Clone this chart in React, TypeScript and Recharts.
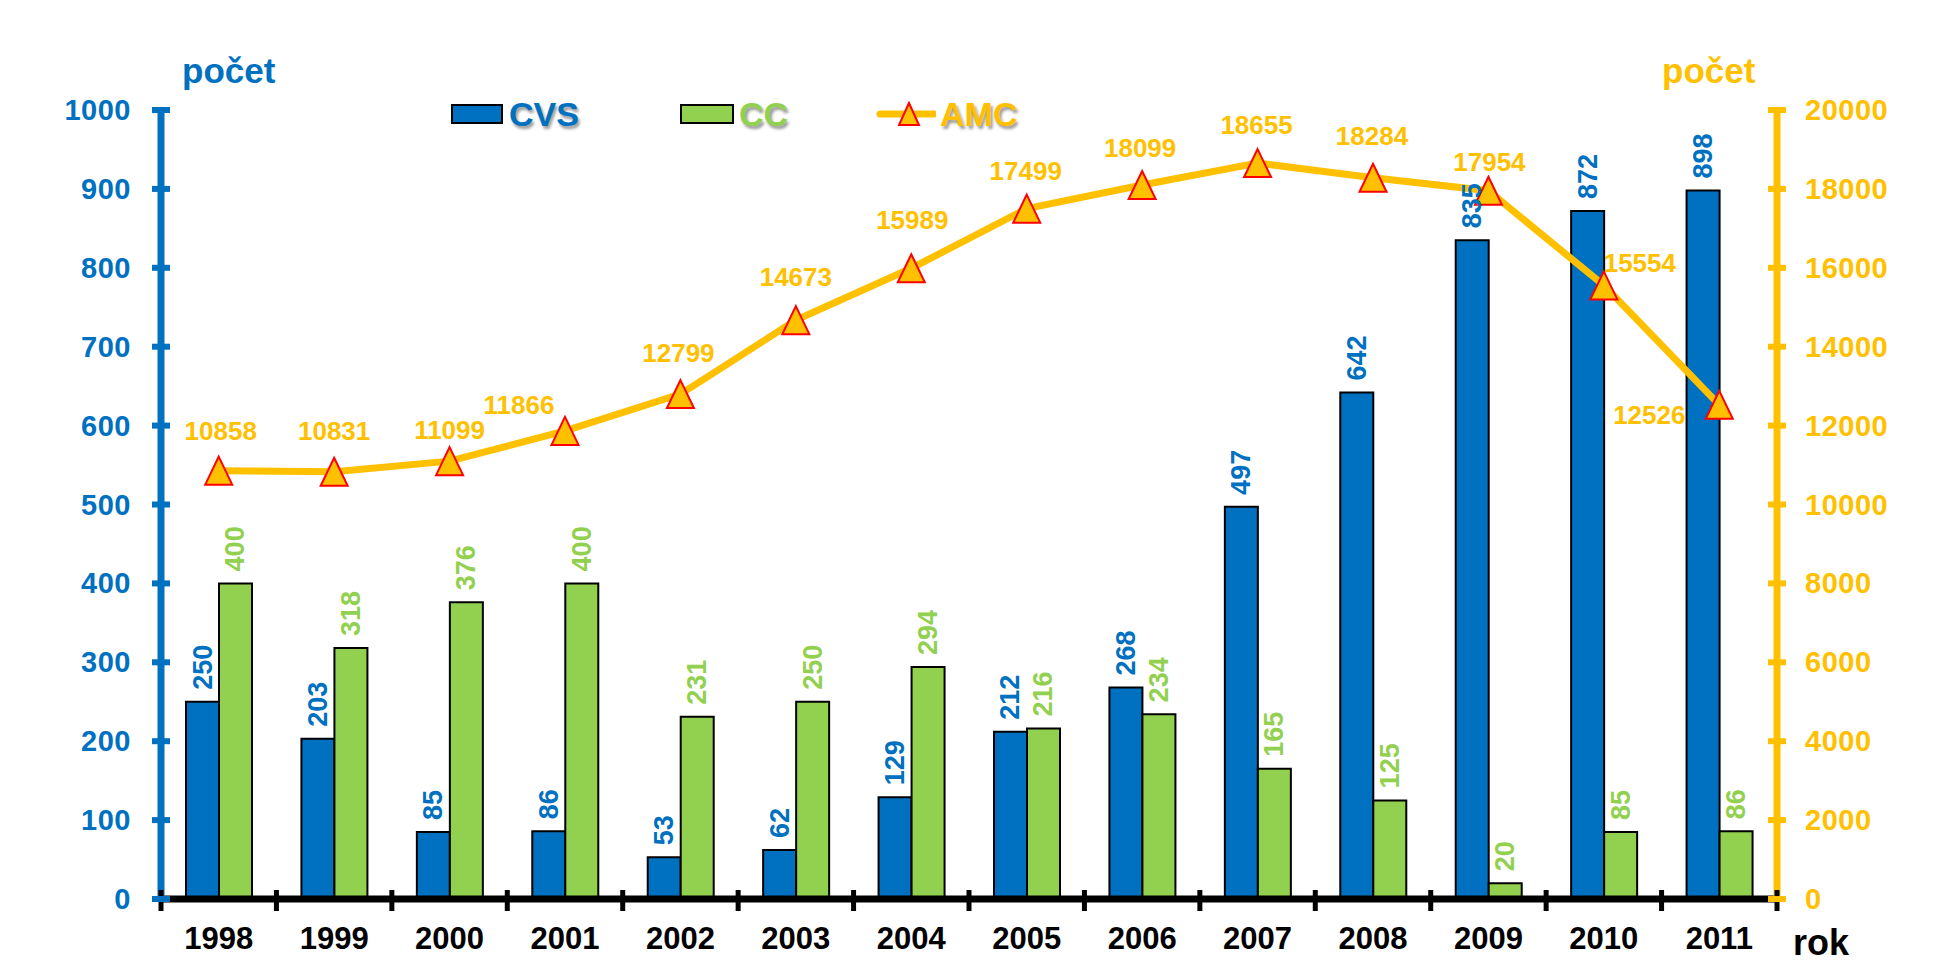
import React from "react";
import {
  Bar,
  ComposedChart,
  LabelList,
  Legend,
  Line,
  XAxis,
  YAxis,
} from "recharts";

const years = ["1998", "1999", "2000", "2001", "2002", "2003", "2004", "2005", "2006", "2007", "2008", "2009", "2010", "2011"];
const cvs = [250, 203, 85, 86, 53, 62, 129, 212, 268, 497, 642, 835, 872, 898];
const cc = [400, 318, 376, 400, 231, 250, 294, 216, 234, 165, 125, 20, 85, 86];
const amc = [10858, 10831, 11099, 11866, 12799, 14673, 15989, 17499, 18099, 18655, 18284, 17954, 15554, 12526];
const leftTicks = [0, 100, 200, 300, 400, 500, 600, 700, 800, 900, 1000];
const rightTicks = [0, 2000, 4000, 6000, 8000, 10000, 12000, 14000, 16000, 18000, 20000];

const data = years.map((year, i) => ({ year, CVS: cvs[i], CC: cc[i], AMC: amc[i] }));

const BLUE = "#0070C0";
const GREEN = "#92D050";
const GOLD = "#FFC000";
const FONT = "'Liberation Sans', Arial, sans-serif";

const W = 1947;
const H = 965;
const PLOT_LEFT = 161;
const PLOT_RIGHT = 1777;
const PLOT_TOP = 110;
const PLOT_BOTTOM = 899;
const BAND = (PLOT_RIGHT - PLOT_LEFT) / years.length;

// where each AMC value label sits relative to its marker (text centre)
const amcLabelShift = [
  [2, -40], [0, -41], [0, -31], [-46, -26], [-2, -41], [0, -43], [1, -48],
  [-1, -38], [-2, -37], [-1, -38], [-1, -42], [1, -29], [36, -22], [-70, 10],
];

const LeftTick = (props: any) => {
  const { x, y, payload } = props;
  return (
    <g>
      <line x1={x - 9} x2={x + 9} y1={y} y2={y} stroke={BLUE} strokeWidth={6} />
      <text x={x - 30} y={y} textAnchor="end" dominantBaseline="central" fill={BLUE}
        fontSize={29} fontWeight="bold" fontFamily={FONT} letterSpacing={0.5}>
        {payload.value}
      </text>
    </g>
  );
};

const RightTick = (props: any) => {
  const { x, y, payload } = props;
  return (
    <g>
      <line x1={x - 9} x2={x + 9} y1={y} y2={y} stroke={GOLD} strokeWidth={6} />
      <text x={x + 28} y={y} textAnchor="start" dominantBaseline="central" fill={GOLD}
        fontSize={29} fontWeight="bold" fontFamily={FONT} letterSpacing={0.5}>
        {payload.value}
      </text>
    </g>
  );
};

const YearTick = (props: any) => {
  const { x, y, payload, index } = props;
  const left = x - BAND / 2;
  const right = x + BAND / 2;
  return (
    <g>
      <line x1={left} x2={left} y1={y - 9} y2={y + 12} stroke="#000" strokeWidth={5} />
      {index === years.length - 1 && (
        <line x1={right} x2={right} y1={y - 9} y2={y + 12} stroke="#000" strokeWidth={5} />
      )}
      <text x={x} y={y + 39} textAnchor="middle" dominantBaseline="central" fill="#000"
        fontSize={31} fontWeight="bold" fontFamily={FONT}>
        {payload.value}
      </text>
    </g>
  );
};

const barLabel = (color: string) => (props: any) => {
  const { x, y, width, value } = props;
  const cx = x + width / 2;
  const ty = y - 12;
  return (
    <text x={cx} y={ty} transform={`rotate(-90 ${cx} ${ty})`} textAnchor="start"
      dominantBaseline="central" fill={color} fontSize={27} fontWeight="bold" fontFamily={FONT}>
      {value}
    </text>
  );
};

const amcLabel = (props: any) => {
  const { x, y, value, index } = props;
  const [dx, dy] = amcLabelShift[index] || [0, -40];
  return (
    <text x={x + dx} y={y + dy} textAnchor="middle" dominantBaseline="central" fill={GOLD}
      fontSize={26} fontWeight="bold" fontFamily={FONT}>
      {value}
    </text>
  );
};

const triangle = (cx: number, cy: number, w: number, h: number) =>
  `${cx},${cy - h / 2} ${cx + w / 2},${cy + h / 2} ${cx - w / 2},${cy + h / 2}`;

const TriangleDot = (props: any) => {
  const { cx, cy, index } = props;
  if (cx == null || cy == null) return null;
  return (
    <polygon key={`t-${index}`} points={triangle(cx, cy, 27, 28)} fill={GOLD} stroke="#FF0000" strokeWidth={2} />
  );
};

const legendText = (color: string): React.CSSProperties => ({
  position: "absolute",
  top: 0,
  fontFamily: FONT,
  fontWeight: "bold",
  fontSize: 34,
  lineHeight: "36px",
  color,
  textShadow: "2px 3px 3px rgba(0,0,0,0.4)",
});

const ChartLegend = () => (
  <div style={{ position: "relative", width: 600, height: 36 }}>
    <div style={{ position: "absolute", left: 0, top: 8, width: 48, height: 16, background: BLUE, border: "2px solid #000" }} />
    <div style={{ ...legendText(BLUE), left: 58 }}>CVS</div>
    <div style={{ position: "absolute", left: 229, top: 8, width: 50, height: 16, background: GREEN, border: "2px solid #000" }} />
    <div style={{ ...legendText(GREEN), left: 288 }}>CC</div>
    <svg style={{ position: "absolute", left: 425, top: 0 }} width={60} height={36}>
      <line x1={4} x2={58} y1={18} y2={18} stroke={GOLD} strokeWidth={7} strokeLinecap="round" />
      <polygon points={triangle(33, 18, 20, 22)} fill={GOLD} stroke="#FF0000" strokeWidth={2} />
    </svg>
    <div style={{ ...legendText(GOLD), left: 489 }}>AMC</div>
  </div>
);

export default function App() {
  return (
    <div style={{ position: "absolute", left: 0, top: 0, width: W, height: H, background: "#fff" }}>
      <ComposedChart
        width={W}
        height={H}
        data={data}
        margin={{ top: PLOT_TOP, right: 0, bottom: 0, left: 0 }}
        barGap={0}
      >
        <XAxis
          dataKey="year"
          height={H - PLOT_BOTTOM}
          axisLine={{ stroke: "#000", strokeWidth: 7 }}
          tickLine={false}
          tickSize={0}
          tickMargin={0}
          interval={0}
          tick={<YearTick />}
        />
        <YAxis
          yAxisId="left"
          width={PLOT_LEFT}
          domain={[0, 1000]}
          ticks={leftTicks}
          axisLine={{ stroke: BLUE, strokeWidth: 7 }}
          tickLine={false}
          tickSize={0}
          tickMargin={0}
          interval={0}
          tick={<LeftTick />}
        />
        <YAxis
          yAxisId="right"
          orientation="right"
          width={W - PLOT_RIGHT}
          domain={[0, 20000]}
          ticks={rightTicks}
          axisLine={{ stroke: GOLD, strokeWidth: 7 }}
          tickLine={false}
          tickSize={0}
          tickMargin={0}
          interval={0}
          tick={<RightTick />}
        />
        <Legend
          layout="horizontal"
          align="center"
          verticalAlign="middle"
          content={<ChartLegend />}
          wrapperStyle={{ position: "absolute", left: 451, top: 96, width: 600, height: 36 }}
        />
        <Bar yAxisId="left" dataKey="CVS" fill={BLUE} stroke="#000" strokeWidth={2} barSize={33} isAnimationActive={false}>
          <LabelList dataKey="CVS" content={barLabel(BLUE)} />
        </Bar>
        <Bar yAxisId="left" dataKey="CC" fill={GREEN} stroke="#000" strokeWidth={2} barSize={33} isAnimationActive={false}>
          <LabelList dataKey="CC" content={barLabel(GREEN)} />
        </Bar>
        <Line
          yAxisId="right"
          type="linear"
          dataKey="AMC"
          stroke={GOLD}
          strokeWidth={7}
          dot={<TriangleDot />}
          activeDot={false}
          isAnimationActive={false}
        >
          <LabelList dataKey="AMC" content={amcLabel} />
        </Line>
      </ComposedChart>
      <svg width={W} height={H} style={{ position: "absolute", left: 0, top: 0, pointerEvents: "none" }}>
        <text x={182} y={83} fill={BLUE} fontSize={35} fontWeight="bold" fontFamily={FONT}>počet</text>
        <text x={1662} y={83} fill={GOLD} fontSize={35} fontWeight="bold" fontFamily={FONT}>počet</text>
        <text x={1793} y={955} fill="#000" fontSize={36} fontWeight="bold" fontFamily={FONT}>rok</text>
      </svg>
    </div>
  );
}
